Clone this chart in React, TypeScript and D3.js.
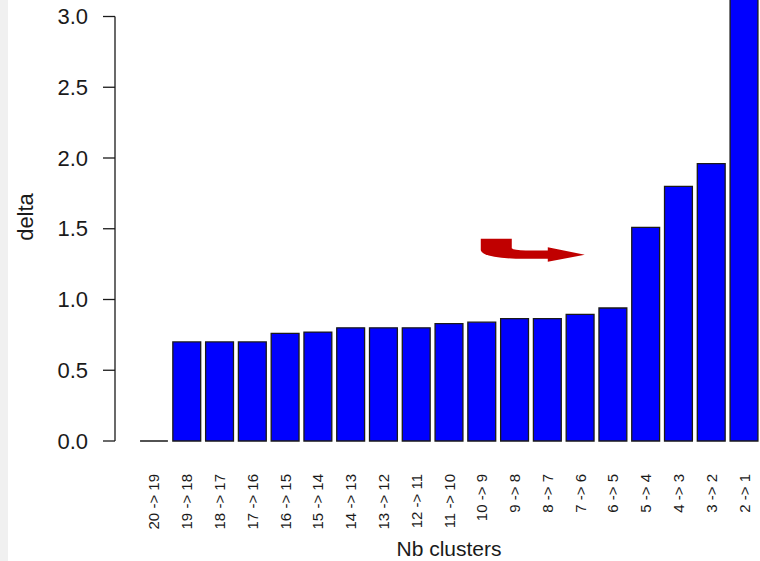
import React from "react";
import * as d3 from "d3";

const categories = [
  "20 -> 19", "19 -> 18", "18 -> 17", "17 -> 16", "16 -> 15", "15 -> 14",
  "14 -> 13", "13 -> 12", "12 -> 11", "11 -> 10", "10 -> 9", "9 -> 8",
  "8 -> 7", "7 -> 6", "6 -> 5", "5 -> 4", "4 -> 3", "3 -> 2", "2 -> 1",
];
const values = [
  0, 0.70, 0.70, 0.70, 0.76, 0.77, 0.80, 0.80, 0.80, 0.83, 0.84, 0.865,
  0.865, 0.895, 0.94, 1.51, 1.80, 1.96, 3.6,
];
const yTicks = [0, 0.5, 1.0, 1.5, 2.0, 2.5, 3.0];
const xTitle = "Nb clusters";
const yTitle = "delta";

const W = 760;
const H = 561;
const FONT = "'Liberation Sans', Arial, sans-serif";

export default function App() {
  const x = d3
    .scaleBand<string>()
    .domain(categories)
    .range([137.6, 760.4])
    .paddingInner(0.15)
    .paddingOuter(0.075);
  const y = d3.scaleLinear().domain([0, 3]).range([441, 16.5]);
  const bw = x.bandwidth();

  // arrow anchor (annotation)
  const ax = (x("10 -> 9") as number) + bw / 2 - 1;
  const ay = y(1.43);
  const arrow = d3.path();
  arrow.moveTo(ax, ay);
  arrow.lineTo(ax + 31, ay);
  arrow.lineTo(ax + 31, ay + 9.5);
  arrow.quadraticCurveTo(ax + 33, ay + 11.5, ax + 45, ay + 11.8);
  arrow.lineTo(ax + 67, ay + 11.8);
  arrow.lineTo(ax + 67, ay + 8.5);
  arrow.lineTo(ax + 104, ay + 16);
  arrow.lineTo(ax + 67, ay + 23.2);
  arrow.lineTo(ax + 67, ay + 20.2);
  arrow.lineTo(ax + 35, ay + 20);
  arrow.quadraticCurveTo(ax + 2, ay + 19, ax, ay + 11.5);
  arrow.closePath();

  return (
    <svg
      width={W}
      height={H}
      style={{ position: "absolute", left: 0, top: 0, display: "block" }}
      fontFamily={FONT}
    >
      <rect x={0} y={0} width={W} height={H} fill="#ffffff" />
      <rect x={0} y={0} width={8} height={H} fill="#f0f0f0" />

      {/* bars */}
      {categories.map((c, i) => {
        const x0 = x(c) as number;
        const y0 = y(0);
        const y1 = y(values[i]);
        const p = d3.path();
        p.moveTo(x0, y0);
        p.lineTo(x0, y1);
        p.lineTo(x0 + bw, y1);
        p.lineTo(x0 + bw, y0);
        p.closePath();
        return (
          <path
            key={c}
            d={p.toString()}
            fill="#0000ff"
            stroke="#1a1a1a"
            strokeWidth={1.3}
          />
        );
      })}

      {/* y axis */}
      <line x1={115} x2={115} y1={y(3)} y2={y(0)} stroke="#1a1a1a" strokeWidth={1.3} />
      {yTicks.map((t) => (
        <g key={t}>
          <line x1={103} x2={115} y1={y(t)} y2={y(t)} stroke="#1a1a1a" strokeWidth={1.3} />
          <text
            x={88}
            y={y(t)}
            textAnchor="end"
            dominantBaseline="central"
            fontSize={22}
            fill="#1a1a1a"
          >
            {t.toFixed(1)}
          </text>
        </g>
      ))}

      {/* x labels */}
      {categories.map((c) => {
        const cx = (x(c) as number) + bw / 2;
        return (
          <text
            key={c}
            transform={`translate(${cx},474) rotate(-90)`}
            textAnchor="end"
            dominantBaseline="central"
            fontSize={15}
            fill="#1a1a1a"
          >
            {c}
          </text>
        );
      })}

      {/* titles */}
      <text x={449} y={556} textAnchor="middle" fontSize={21} fill="#1a1a1a">
        {xTitle}
      </text>
      <text
        transform={`translate(33,217) rotate(-90)`}
        textAnchor="middle"
        fontSize={22}
        fill="#1a1a1a"
      >
        {yTitle}
      </text>

      {/* red arrow annotation */}
      <path d={arrow.toString()} fill="#c00000" />
    </svg>
  );
}
